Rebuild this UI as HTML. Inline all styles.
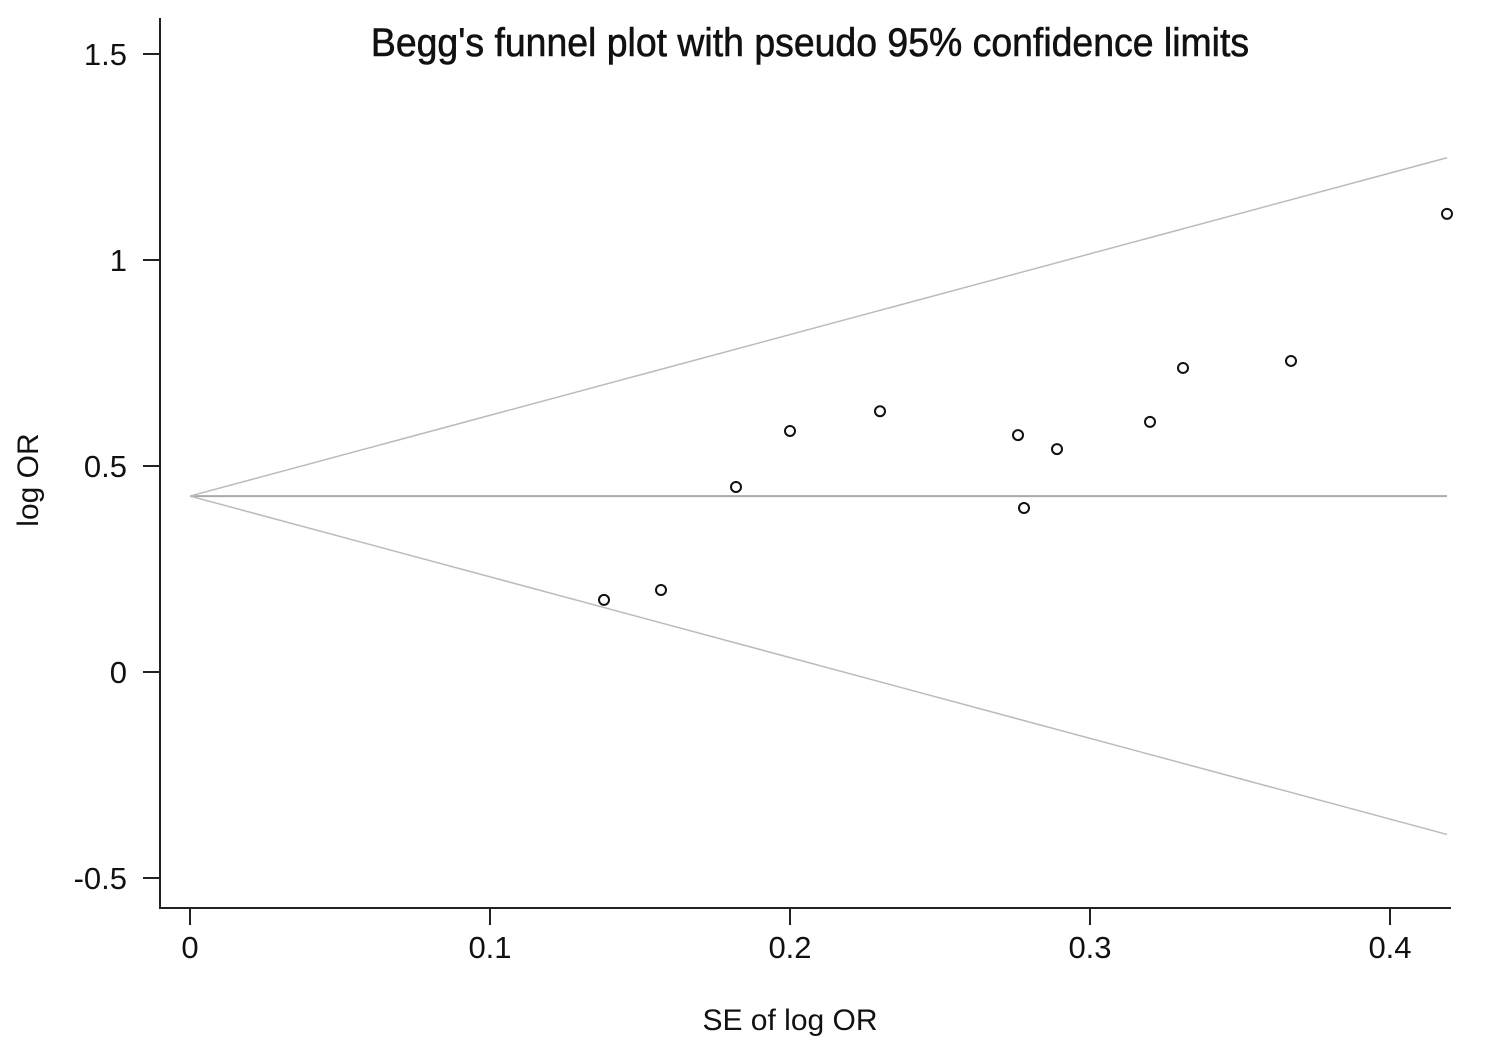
<!DOCTYPE html>
<html>
<head>
<meta charset="utf-8">
<style>
  html,body{margin:0;padding:0;background:#fff;}
  svg{display:block;font-family:"Liberation Sans",sans-serif;}
</style>
</head>
<body>
<svg id="chart" width="1503" height="1043" viewBox="0 0 1503 1043" xmlns="http://www.w3.org/2000/svg">
  <g id="axes"></g>
  <g id="lines"></g>
  <g id="points"></g>
  <text x="810" y="56" font-size="40" text-anchor="middle" transform="translate(810 0) scale(0.935 1) translate(-810 0)" fill="#111" stroke="#111" stroke-width="0.6">Begg's funnel plot with pseudo 95% confidence limits</text>
  <text x="790" y="1030" font-size="30" text-anchor="middle" fill="#111">SE of log OR</text>
  <text x="0" y="0" font-size="30" text-anchor="middle" fill="#111" transform="translate(38 480) rotate(-90)">log OR</text>
</svg>
<script>
const seValues = [0.138, 0.157, 0.182, 0.200, 0.230, 0.276, 0.278, 0.289, 0.320, 0.331, 0.367, 0.419];
const logOrValues = [0.175, 0.199, 0.449, 0.585, 0.633, 0.575, 0.398, 0.541, 0.607, 0.738, 0.755, 1.112];
const pooledEstimate = [0.427];
const maxSe = [0.419];
const xTicks = [0, 0.1, 0.2, 0.3, 0.4];
const xTickLabels = ["0", "0.1", "0.2", "0.3", "0.4"];
const yTicks = [1.5, 1, 0.5, 0, -0.5];
const yTickLabels = ["1.5", "1", "0.5", "0", "-0.5"];

const NS = "http://www.w3.org/2000/svg";
function xs(v){ return 190 + v * 3000; }
function ys(v){ return 672 - v * 412; }
function mk(tag, attrs, parent){
  const e = document.createElementNS(NS, tag);
  for (const k in attrs) e.setAttribute(k, attrs[k]);
  parent.appendChild(e);
  return e;
}
const axes = document.getElementById('axes');
const lines = document.getElementById('lines');
const pts = document.getElementById('points');

let e = mk('line', {x1:160, y1:18, x2:160, y2:909, stroke:'#222', 'stroke-width':2}, axes);


e = mk('line', {x1:159, y1:908, x2:1451, y2:908, stroke:'#222', 'stroke-width':2}, axes);



yTicks.forEach((t, i) => {
  const y = ys(t);
  let tk = mk('line', {x1:143, y1:y, x2:160, y2:y, stroke:'#222', 'stroke-width':2}, axes);
  
  
  let lb = mk('text', {x:127, y:y + 11, 'font-size':31, 'text-anchor':'end', fill:'#111'}, axes);
  lb.textContent = yTickLabels[i];
  
  
});
xTicks.forEach((t, i) => {
  const x = xs(t);
  let tk = mk('line', {x1:x, y1:908, x2:x, y2:925, stroke:'#222', 'stroke-width':2}, axes);
  
  
  let lb = mk('text', {x:x, y:958, 'font-size':31, 'text-anchor':'middle', fill:'#111'}, axes);
  lb.textContent = xTickLabels[i];
  
  
});

const p = pooledEstimate[0], m = maxSe[0];
e = mk('line', {x1:xs(0), y1:ys(p), x2:xs(m), y2:ys(p), stroke:'#aaa', 'stroke-width':2}, lines);


e = mk('line', {x1:xs(0), y1:ys(p), x2:xs(m), y2:ys(p + 1.96 * m), stroke:'#bbb', 'stroke-width':1.5}, lines);


e = mk('line', {x1:xs(0), y1:ys(p), x2:xs(m), y2:ys(p - 1.96 * m), stroke:'#bbb', 'stroke-width':1.5}, lines);



seValues.forEach((s, i) => {
  const c = mk('circle', {cx:xs(s), cy:ys(logOrValues[i]), r:5, fill:'#fff', stroke:'#111', 'stroke-width':2}, pts);
  
  
});
</script>
</body>
</html>
